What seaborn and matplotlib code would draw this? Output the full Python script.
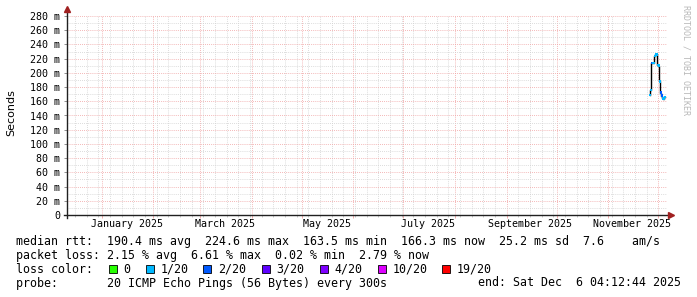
import matplotlib
matplotlib.use("Agg")
import matplotlib.pyplot as plt
import matplotlib.dates as mdates
from matplotlib.patches import Rectangle
import seaborn as sns
import pandas as pd
import numpy as np

# ---------------- data ----------------
times = ["2025-11-25 23:00", "2025-11-26 13:00", "2025-11-27 04:00", "2025-11-27 18:00",
         "2025-11-28 08:00", "2025-11-28 23:00", "2025-11-29 13:00", "2025-11-30 04:00",
         "2025-11-30 18:00", "2025-12-01 08:00", "2025-12-01 23:00", "2025-12-02 13:00",
         "2025-12-03 04:00", "2025-12-03 18:00", "2025-12-04 08:00", "2025-12-04 23:00"]
median_ms = [169, 176, 214, 214, 214, 224, 226, 226, 211, 210, 188, 172, 168, 164, 163, 166]
loss_bin = ["1/20", "1/20", "2/20", "1/20", "1/20", "1/20", "1/20", "1/20",
            "1/20", "1/20", "1/20", "2/20", "2/20", "1/20", "1/20", "1/20"]

loss_labels = ["0", "1/20", "2/20", "3/20", "4/20", "10/20", "19/20"]
loss_colors = ["#26ff00", "#00b8ff", "#0059ff", "#5e00ff", "#7e00ff", "#dd00ff", "#ff0000"]

month_labels = ["January 2025", "March 2025", "May 2025", "July 2025",
                "September 2025", "November 2025"]
month_label_pos = ["2025-01-16", "2025-03-16", "2025-05-16", "2025-07-16",
                   "2025-09-15", "2025-11-15"]

y_ticks = [0, 20, 40, 60, 80, 100, 120, 140, 160, 180, 200, 220, 240, 260, 280]

line_rtt = "median rtt:  190.4 ms avg  224.6 ms max  163.5 ms min  166.3 ms now  25.2 ms sd  7.6    am/s"
line_loss = "packet loss: 2.15 % avg  6.61 % max  0.02 % min  2.79 % now"
line_probe = "probe:       20 ICMP Echo Pings (56 Bytes) every 300s"
line_end = "end: Sat Dec  6 04:12:44 2025"

end_time = pd.Timestamp("2025-12-06 04:12:44")
start_time = end_time - pd.Timedelta(days=360)

# ---------------- figure ----------------
W, H = 697, 297
fig = plt.figure(figsize=(W / 100, H / 100), dpi=100)
fig.patch.set_facecolor("white")
ax = fig.add_axes([67 / W, 82 / H, 600 / W, 200 / H])
ax.set_facecolor("white")

df = pd.DataFrame({"time": pd.to_datetime(times), "median": median_ms, "loss": loss_bin})

sns.lineplot(data=df, x="time", y="median", color="black", lw=1.0,
             drawstyle="steps-mid", ax=ax, legend=False, zorder=3)
sns.scatterplot(data=df, x="time", y="median", hue="loss",
                palette=dict(zip(loss_labels, loss_colors)), marker="s", s=3.5,
                linewidth=0, ax=ax, legend=False, zorder=4)
ax.set_xlabel("")
ax.set_ylabel("")

ax.set_xlim(start_time, end_time)
ax.set_ylim(0, 280 * 200 / 199)

# grid / ticks
ax.xaxis.set_major_locator(mdates.MonthLocator())
ax.xaxis.set_minor_locator(mdates.WeekdayLocator(byweekday=mdates.MO))
ax.xaxis.set_major_formatter(plt.NullFormatter())
ax.set_yticks(y_ticks)
ax.set_yticks(np.arange(10, 281, 20), minor=True)
ax.set_yticklabels([("%d m" % v) if v else "0" for v in y_ticks],
                   family="DejaVu Sans Mono", fontsize=7.2)

ax.grid(which="minor", color="#d0d0d0", lw=0.6, linestyle=(0, (1, 1.5)), zorder=0)
ax.grid(which="major", color="#f0a0a0", lw=0.6, linestyle=(0, (1, 1.5)), zorder=1)
ax.set_axisbelow(True)

ax.tick_params(axis="y", which="major", length=2.2, width=0.7, color="#909090", pad=2.9)
ax.tick_params(axis="y", which="minor", length=0)
ax.tick_params(axis="x", which="major", length=2.0, width=0.6, color="#f0a0a0", direction="out")
ax.tick_params(axis="x", which="minor", length=1.5, width=0.6, color="#c0c0c0", direction="out")

for s in ax.spines.values():
    s.set_visible(False)

# axes lines with arrows
ax.plot([-0.005, 1.004], [0, 0], transform=ax.transAxes, color="#202020", lw=1.0,
        clip_on=False, zorder=5)
ax.plot([0, 0], [-0.015, 1.03], transform=ax.transAxes, color="#202020", lw=1.0,
        clip_on=False, zorder=5)
ax.plot([1.006], [0], transform=ax.transAxes, marker=">", color="#a02020", ms=4,
        clip_on=False, zorder=6)
ax.plot([0], [1.032], transform=ax.transAxes, marker="^", color="#a02020", ms=4,
        clip_on=False, zorder=6)

# month labels
for lab, pos in zip(month_labels, month_label_pos):
    ax.text(pd.Timestamp(pos), -9.3 / 200, lab, transform=ax.get_xaxis_transform(),
            ha="center", va="center", family="DejaVu Sans Mono", fontsize=7.2)

# y label and watermark
fig.text(11 / W, 1 - 113 / H, "Seconds", rotation=90, ha="center", va="center",
         family="DejaVu Sans", fontsize=8)
fig.text(686 / W, 1 - 60 / H, "RRDTOOL / TOBI OETIKER", rotation=270, ha="center",
         va="center", family="DejaVu Sans Mono", fontsize=6, color="#b8b8b8")

# legend block
mono = dict(family="DejaVu Sans Mono", fontsize=8.4, va="center", ha="left")
fig.text(16 / W, 1 - 241.5 / H, line_rtt, **mono)
fig.text(16 / W, 1 - 255.3 / H, line_loss, **mono)
fig.text(16 / W, 1 - 283.0 / H, line_probe, **mono)
fig.text(478.3 / W, 1 - 283.0 / H, line_end, **mono)

y3 = 269.2
fig.text(16 / W, 1 - y3 / H, "loss color:", **mono)
box_x = [109.0, 145.7, 203.3, 261.7, 320.0, 377.7, 442.3]
for lab, col, bx in zip(loss_labels, loss_colors, box_x):
    fig.patches.append(Rectangle((bx / W, 1 - (y3 + 4) / H), 8 / W, 8 / H,
                                 transform=fig.transFigure, facecolor=col,
                                 edgecolor="black", lw=0.6, figure=fig))
    fig.text((bx + 14.5) / W, 1 - y3 / H, lab, **mono)

fig.savefig("out.png", dpi=100, facecolor="white")
